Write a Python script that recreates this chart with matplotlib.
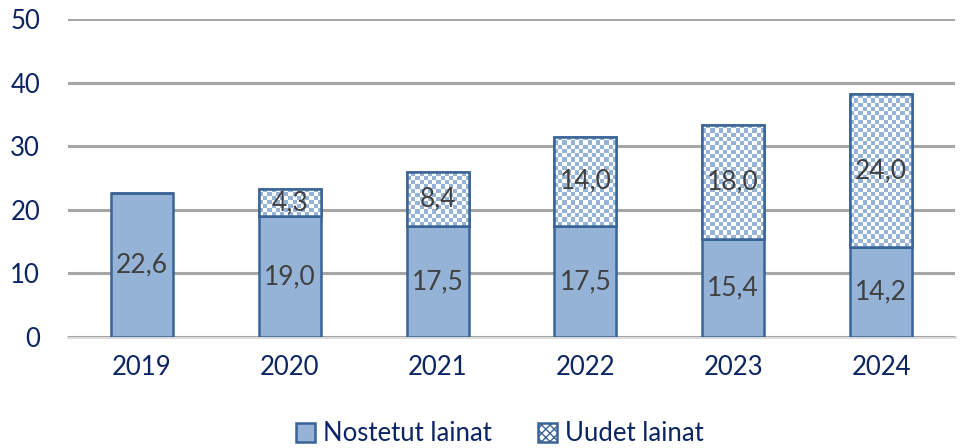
import numpy as np
import matplotlib.pyplot as plt
from matplotlib.colors import ListedColormap
from matplotlib.patches import Patch

vuodet = ["2019", "2020", "2021", "2022", "2023", "2024"]
nostetut = [22.6, 19.0, 17.5, 17.5, 15.4, 14.2]
uudet = [0.0, 4.3, 8.4, 14.0, 18.0, 24.0]

sininen = "#95B3D7"
reuna = "#3A6496"
teksti = "#0B2463"

plt.rcParams["font.family"] = ["Lato", "DejaVu Sans"]
plt.rcParams["hatch.color"] = sininen

fig = plt.figure(figsize=(9.61, 4.48), dpi=100)
ax = fig.add_axes([68 / 961, 111 / 448, 887 / 961, 318 / 448])

x = np.arange(len(vuodet))
lev = 0.42
b1 = ax.bar(x, nostetut, lev, color=sininen, edgecolor=reuna, linewidth=1.8,
            zorder=3, label="Nostetut lainat")
b2 = ax.bar(x, uudet, lev, bottom=nostetut, color="white", edgecolor=reuna,
            linewidth=1.8, zorder=3, label="Uudet lainat")

ax.set_xlim(-0.5, len(vuodet) - 0.5)
ax.set_ylim(0, 50)
ax.set_yticks(range(0, 51, 10))
ax.set_xticks(x)
ax.set_xticklabels(vuodet)

# ruudukkokuvio uusille lainoille (clipattu pylvääseen)
fig.canvas.draw()
ruutu = 4.2  # pikseliä
for p in b2.patches:
    if p.get_height() <= 0:
        continue
    bb = p.get_window_extent()
    nx = max(1, int(round(bb.width / ruutu)))
    ny = max(1, int(round(bb.height / ruutu)))
    kuvio = (np.add.outer(np.arange(ny), np.arange(nx)) % 2).astype(float)
    x0, y0 = p.get_x(), p.get_y()
    im = ax.imshow(kuvio, cmap=ListedColormap(["white", sininen]),
                   extent=(x0, x0 + p.get_width(), y0, y0 + p.get_height()),
                   origin="lower", aspect="auto", interpolation="nearest", zorder=3.5)
    im.set_clip_path(p)
    # reuna uudelleen päälle
    ax.add_patch(plt.Rectangle((x0, y0), p.get_width(), p.get_height(), fill=False,
                               edgecolor=reuna, linewidth=1.8, zorder=4))
ax.set_xlim(-0.5, len(vuodet) - 0.5)
ax.set_ylim(0, 50)

for i in range(len(vuodet)):
    ax.text(x[i], nostetut[i] / 2, f"{nostetut[i]:.1f}".replace(".", ","),
            ha="center", va="center", fontsize=19, color="#404040", zorder=5)
    if uudet[i] > 0:
        ax.text(x[i], nostetut[i] + uudet[i] / 2, f"{uudet[i]:.1f}".replace(".", ","),
                ha="center", va="center", fontsize=19, color="#404040", zorder=5)

ax.yaxis.grid(True, color="#A6A6A6", linewidth=2.2, zorder=0)
for s in ["top", "right", "left"]:
    ax.spines[s].set_visible(False)
ax.spines["bottom"].set_color("#D9D9D9")
ax.spines["bottom"].set_linewidth(2)
ax.spines["bottom"].set_zorder(1)
ax.tick_params(axis="both", length=0, labelsize=18.5, labelcolor=teksti)
ax.tick_params(axis="x", pad=13)
ax.tick_params(axis="y", pad=20)

# legenda
kasat = [Patch(facecolor=sininen, edgecolor=reuna, linewidth=1.8, label="Nostetut lainat"),
         Patch(facecolor="white", edgecolor=reuna, linewidth=1.8, hatch="xxxx",
               label="Uudet lainat")]
leg = fig.legend(handles=kasat, loc="center", bbox_to_anchor=(0.52, 0.032), ncol=2,
                 frameon=False, fontsize=18.5, handlelength=0.75, handleheight=0.75,
                 handletextpad=0.3, columnspacing=1.8, borderpad=0.1)
for t in leg.get_texts():
    t.set_color(teksti)

fig.savefig("out.png", dpi=100)
